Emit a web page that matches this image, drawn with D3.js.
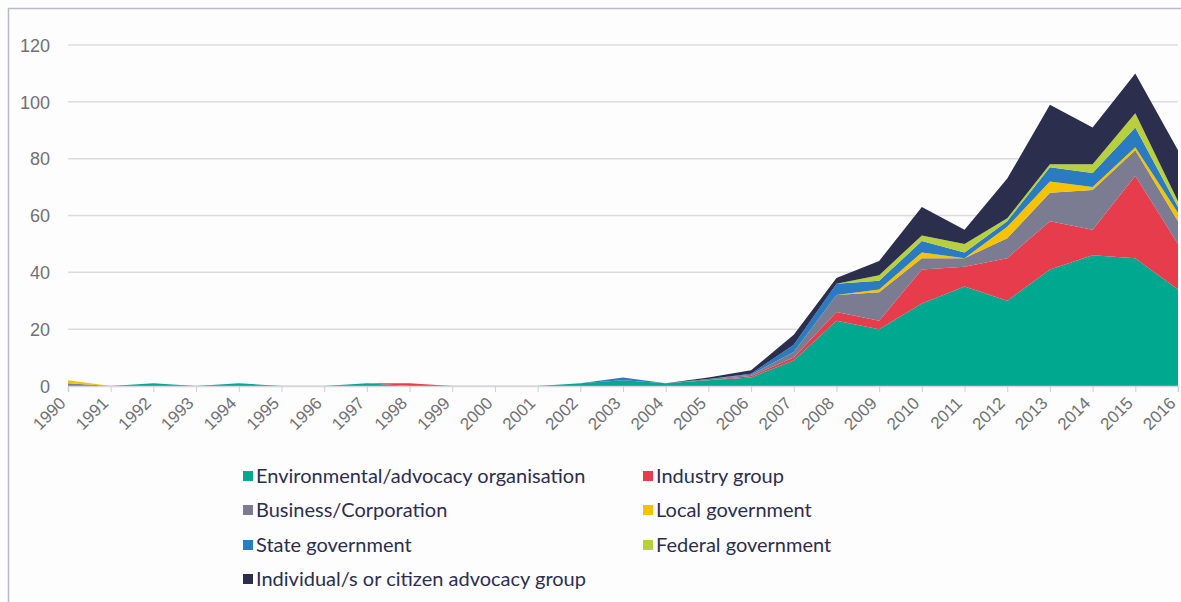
<!DOCTYPE html>
<html>
<head>
<meta charset="utf-8">
<script src="https://cdn.jsdelivr.net/npm/d3@7"></script>
<style>
  body { margin: 0; background: #fdfdfd; }
  svg { font-family: Lato, "Open Sans", sans-serif; }
</style>
</head>
<body>
<svg id="chart" width="1181" height="602"></svg>
<script>
var years = d3.range(1990, 2017);

// values per year, 1990..2016
var environmental = [0,0,1,0,1,0,0,1,0,0,0,0,1,2,1,2,3,9,23,20,29,35,30,41,46,45,34];
var industry      = [0,0,0,0,0,0,0,0,1,0,0,0,0,0,0,0,0.5,1,3,3,12,7,15,17,9,29,16];
var business      = [1,0,0,0,0,0,0,0,0,0,0,0,0,0,0,0.5,0.5,2,6,10,4,3,7,10,14,9,8];
var local         = [1,0,0,0,0,0,0,0,0,0,0,0,0,0,0,0,0,0,0,1,2,0,4,4,1,1,3];
var state         = [0,0,0,0,0,0,0,0,0,0,0,0,0,1,0,0,0.3,2.5,4,3,4,2,2,5,5,7,2];
var federal       = [0,0,0,0,0,0,0,0,0,0,0,0,0,0,0,0,0,0,0,2,2,3,1,1,3,5,2];
var individual    = [0,0,0,0,0,0,0,0,0,0,0,0,0,0,0,0.5,1.2,3.5,2,5,10,5,14,21,13,14,18];

var seriesNames = ["Environmental/advocacy organisation", "Industry group", "Business/Corporation",
  "Local government", "State government", "Federal government", "Individual/s or citizen advocacy group"];
var seriesValues = [environmental, industry, business, local, state, federal, individual];
var colors = ["#00a88f", "#e63c4b", "#7b7b91", "#f7c200", "#2a7bc0", "#b7d03b", "#2c2e4e"];

var yTicks = [0, 20, 40, 60, 80, 100, 120];

var rows = years.map(function(y, i) {
  var r = { year: y };
  seriesNames.forEach(function(n, k) { r[n] = seriesValues[k][i]; });
  return r;
});

var svg = d3.select("#chart");

// frame
svg.append("path")
  .attr("d", "M8.5,602 V8.5 H1181")
  .style("fill", "none")
  .style("stroke", "#b9b9cc")
  .style("stroke-width", "1.5px");

var x = d3.scaleLinear().domain([1990, 2016]).range([68, 1178]);
var y = d3.scaleLinear().domain([0, 120]).range([386, 45]);

// grid
svg.append("g")
  .selectAll("line.grid")
  .data(yTicks)
  .join("line")
  .classed("grid", true)
  .attr("x1", 68)
  .attr("x2", 1178)
  .attr("y1", d => y(d))
  .attr("y2", d => y(d))
  .style("stroke", "#dcdcdf")
  .style("stroke-width", "1.5px");

var yAxis = svg.append("g")
  .attr("transform", "translate(50,0)")
  .call(d3.axisLeft(y).tickValues(yTicks).tickSize(0).tickPadding(0));
yAxis.select(".domain").remove();
yAxis.selectAll("text")
  .style("font-size", "18px")
  .style("fill", "#707075")
  .attr("dy", "0.35em");

var stack = d3.stack().keys(seriesNames);
var layers = stack(rows);

var area = d3.area()
  .x(d => x(d.data.year))
  .y0(d => y(d[0]))
  .y1(d => y(d[1]));

svg.append("g")
  .selectAll("path.layer")
  .data(layers)
  .join("path")
  .classed("layer", true)
  .attr("d", area)
  .style("fill", (d, i) => colors[i]);

// x axis
var xAxis = svg.append("g")
  .attr("transform", "translate(0,386)")
  .call(d3.axisBottom(x).tickValues(years).tickFormat(d3.format("d")).tickSize(6));
xAxis.select(".domain").style("stroke", "#d6d6da").style("stroke-width", "1.5px");
xAxis.selectAll(".tick line").style("stroke", "#cfcfd4");
xAxis.selectAll("text")
  .style("font-size", "17px")
  .style("fill", "#707075")
  .style("text-anchor", "end")
  .attr("x", 0)
  .attr("y", 0)
  .attr("dy", "0.35em")
  .attr("transform", "translate(-6,14) rotate(-45)");

// legend
var legendX = [243, 643];
var legendY = [476, 510, 545, 579];
var legend = svg.append("g")
  .selectAll("g.item")
  .data(seriesNames)
  .join("g")
  .classed("item", true)
  .attr("transform", (d, i) => "translate(" + legendX[i % 2] + "," + legendY[Math.floor(i / 2)] + ")");

legend.append("rect")
  .attr("x", 0)
  .attr("y", -5)
  .attr("width", 10)
  .attr("height", 10)
  .style("fill", (d, i) => colors[i]);

legend.append("text")
  .attr("x", 13)
  .attr("dy", "0.35em")
  .style("font-size", "20px")
  .style("fill", "#2c2e4e")
  .text(d => d);
</script>
</body>
</html>
